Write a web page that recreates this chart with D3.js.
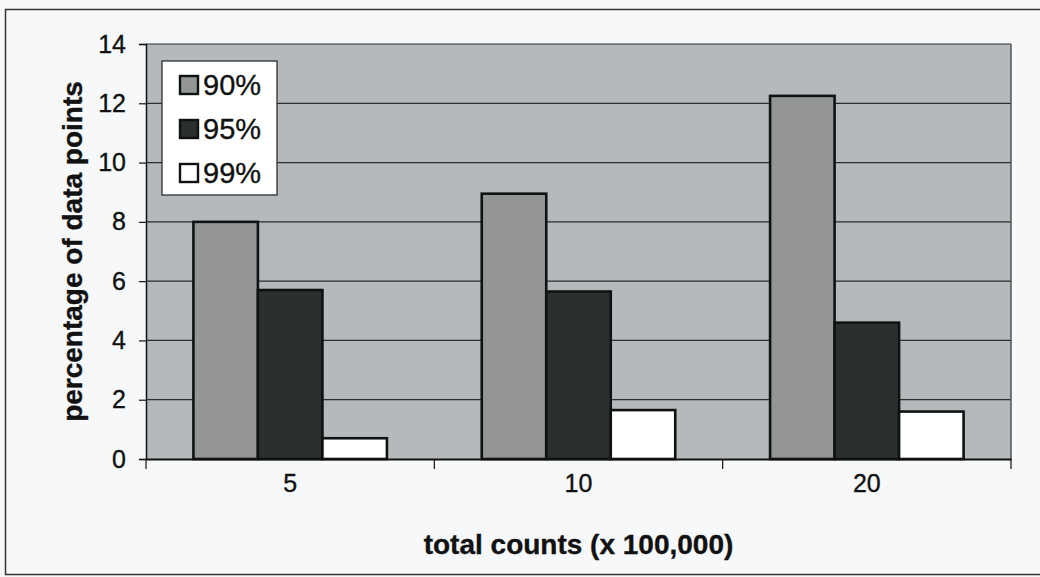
<!DOCTYPE html>
<html>
<head>
<meta charset="utf-8">
<script src="https://cdn.jsdelivr.net/npm/d3@7"></script>
<style>
  html, body { margin: 0; padding: 0; background: #f6f7f8; }
  svg { display: block; }
  text { font-family: "Liberation Sans", Arial, sans-serif; fill: #111; stroke: #111; stroke-width: 0.35px; }
</style>
</head>
<body>
<svg id="chart" width="1040" height="577"></svg>
<script>
// Data
const categories = ["5", "10", "20"];
const series = ["90%", "95%", "99%"];
const values90 = [8.0, 8.95, 12.25];
const values95 = [5.7, 5.65, 4.6];
const values99 = [0.7, 1.65, 1.6];
const yTicks = [0, 2, 4, 6, 8, 10, 12, 14];
const xTitle = "total counts (x 100,000)";
const yTitle = "percentage of data points";

const seriesValues = [values90, values95, values99];
const seriesFill = ["#939597", "#2b302f", "#ffffff"];

const W = 1040, H = 577;
const plot = { left: 146, right: 1011, top: 44, bottom: 459 };

const svg = d3.select("#chart");

// outer chart frame
svg.append("rect")
  .attr("x", 5.5).attr("y", 9.5)
  .attr("width", W + 10).attr("height", 565)
  .attr("fill", "#f7f8f9")
  .attr("stroke", "#333").attr("stroke-width", 1.5);

const x0 = d3.scaleBand().domain(categories).range([plot.left, plot.right]).padding(0);
const x1 = d3.scaleBand().domain(series).range([0, x0.bandwidth()]).paddingInner(0).paddingOuter(0.735);
const y = d3.scaleLinear().domain([0, 14]).range([plot.bottom, plot.top]);

// plot area background
svg.append("rect")
  .attr("x", plot.left).attr("y", plot.top)
  .attr("width", plot.right - plot.left).attr("height", plot.bottom - plot.top)
  .attr("fill", "#b5b9bc");

// gridlines
svg.append("g")
  .selectAll("line")
  .data(yTicks.filter(d => d > 0))
  .join("line")
  .attr("x1", plot.left).attr("x2", plot.right)
  .attr("y1", d => y(d)).attr("y2", d => y(d))
  .attr("stroke", "#2a2e30").attr("stroke-width", 1.2);

// plot area border (right side)
svg.append("line")
  .attr("x1", plot.right).attr("x2", plot.right)
  .attr("y1", plot.top).attr("y2", plot.bottom)
  .attr("stroke", "#555").attr("stroke-width", 1.5);

// bars
const groups = svg.append("g")
  .selectAll("g")
  .data(categories)
  .join("g")
  .attr("transform", d => `translate(${x0(d)},0)`);

groups.selectAll("rect")
  .data((c, ci) => series.map((s, si) => ({ s, si, v: seriesValues[si][ci] })))
  .join("rect")
  .attr("x", d => x1(d.s))
  .attr("y", d => y(d.v))
  .attr("width", x1.bandwidth())
  .attr("height", d => y(0) - y(d.v))
  .attr("fill", d => seriesFill[d.si])
  .attr("stroke", "#0e1211").attr("stroke-width", 2.6);

// y axis
const yAxis = d3.axisLeft(y).tickValues(yTicks).tickSize(7).tickPadding(13).tickFormat(d3.format("d"));
const gy = svg.append("g").attr("transform", `translate(${plot.left},0)`).call(yAxis);
gy.select(".domain").attr("stroke", "#111").attr("stroke-width", 1.5);
gy.selectAll(".tick line").attr("stroke", "#111").attr("stroke-width", 1.2);
gy.selectAll(".tick text").style("font-size", "25px").attr("fill", "#111");

// x axis with ticks on category boundaries
const xAxis = d3.axisBottom(x0).tickSize(0).tickPadding(15);
const gx = svg.append("g").attr("transform", `translate(0,${plot.bottom})`).call(xAxis);
gx.select(".domain").attr("stroke", "#111").attr("stroke-width", 2);
gx.selectAll(".tick text").style("font-size", "25px").attr("fill", "#111");
gx.append("g")
  .selectAll("line")
  .data(categories.concat(["end"]))
  .join("line")
  .attr("x1", (d, i) => i < categories.length ? x0(d) : plot.right)
  .attr("x2", (d, i) => i < categories.length ? x0(d) : plot.right)
  .attr("y1", 0).attr("y2", 10)
  .attr("stroke", "#111").attr("stroke-width", 1.2);

// axis titles
svg.append("text")
  .attr("x", (plot.left + plot.right) / 2)
  .attr("y", 554)
  .attr("text-anchor", "middle")
  .style("font-size", "28px").style("font-weight", "bold")
  .text(xTitle);

svg.append("text")
  .attr("transform", `translate(82,${(plot.top + plot.bottom) / 2}) rotate(-90)`)
  .attr("text-anchor", "middle")
  .style("font-size", "28px").style("font-weight", "bold")
  .text(yTitle);

// legend
const legend = svg.append("g").attr("transform", "translate(162,61)");
legend.append("rect")
  .attr("width", 115).attr("height", 134)
  .attr("fill", "#ffffff")
  .attr("stroke", "#222").attr("stroke-width", 1.2);
const items = legend.selectAll("g.item")
  .data(series)
  .join("g")
  .attr("class", "item")
  .attr("transform", (d, i) => `translate(18,${24 + i * 44})`);
items.append("rect")
  .attr("x", 0).attr("y", -9)
  .attr("width", 18).attr("height", 18)
  .attr("fill", (d, i) => seriesFill[i])
  .attr("stroke", "#0e1211").attr("stroke-width", 2.4);
items.append("text")
  .attr("x", 23).attr("y", 10)
  .style("font-size", "29px")
  .text(d => d);
</script>
</body>
</html>
